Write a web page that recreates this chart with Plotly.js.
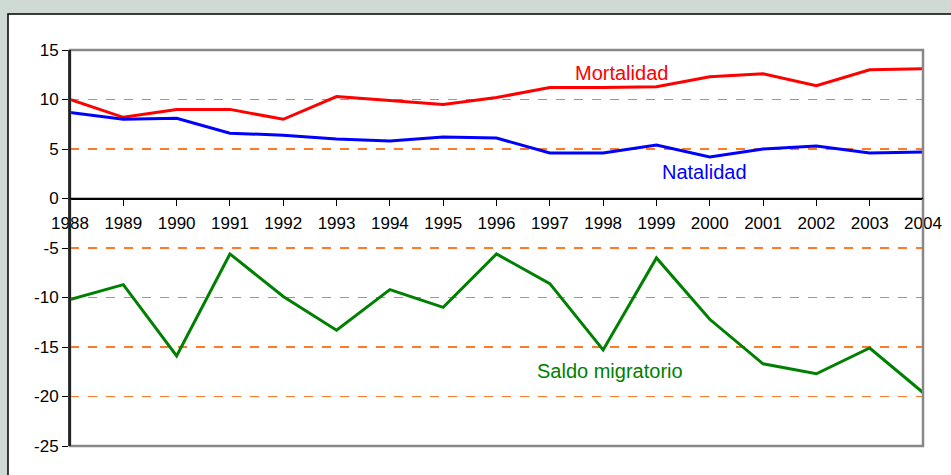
<!DOCTYPE html>
<html>
<head>
<meta charset="utf-8">
<script src="https://cdn.plot.ly/plotly-3.0.1.min.js"></script>
<style>
  html, body { margin: 0; padding: 0; background: #cfdad4; }
  #grafica { width: 951px; height: 475px; }
</style>
</head>
<body>
<div id="grafica"></div>
<script>
// Datos
const anios = [1988, 1989, 1990, 1991, 1992, 1993, 1994, 1995, 1996,
               1997, 1998, 1999, 2000, 2001, 2002, 2003, 2004];
const mortalidad = [10.0, 8.2, 9.0, 9.0, 8.0, 10.3, 9.9, 9.5, 10.2,
                    11.2, 11.2, 11.3, 12.3, 12.6, 11.4, 13.0, 13.1];
const natalidad = [8.7, 8.0, 8.1, 6.6, 6.4, 6.0, 5.8, 6.2, 6.1,
                   4.6, 4.6, 5.4, 4.2, 5.0, 5.3, 4.6, 4.7];
const saldoMigratorio = [-10.2, -8.7, -15.9, -5.6, -9.9, -13.3, -9.2, -11.0, -5.6,
                         -8.6, -15.3, -6.0, -12.2, -16.7, -17.7, -15.1, -19.6];
const ticksY = [-25, -20, -15, -10, -5, 0, 5, 10, 15];

const fuente = "Liberation Sans, Arial, sans-serif";

function serie(valores, color) {
    return {
        x: anios,
        y: valores,
        mode: "lines",
        line: { color: color, width: 3 },
        hoverinfo: "skip"
    };
}

const datos = [
    serie(mortalidad, "#ff0000"),
    serie(natalidad, "#0000ff"),
    serie(saldoMigratorio, "#008000")
];

// Etiquetas de las series
const etiquetas = [
    { x: 1998.34, y: 12.7, text: "Mortalidad", color: "#ff0000" },
    { x: 1999.9, y: 2.7, text: "Natalidad", color: "#0000ff" },
    { x: 1998.13, y: -17.4, text: "Saldo migratorio", color: "#008000" }
].map(e => ({
    x: e.x, y: e.y, xref: "x", yref: "y",
    text: e.text, showarrow: false,
    font: { family: fuente, size: 20, color: e.color }
}));

const layout = {
    width: 951,
    height: 475,
    margin: { l: 70, r: 28, t: 50, b: 29 },
    paper_bgcolor: "#cfdad4",
    plot_bgcolor: "#ffffff",
    showlegend: false,
    font: { family: fuente, size: 17, color: "#000000" },
    xaxis: {
        range: [1988, 2004],
        tickmode: "array",
        tickvals: anios,
        ticktext: anios.map(String),
        anchor: "free",
        position: 25 / 40,
        showgrid: false,
        zeroline: false,
        showline: true,
        linecolor: "#000000",
        linewidth: 1.5,
        ticks: "outside",
        ticklen: 6,
        tickcolor: "#000000",
        ticklabelstandoff: 3,
        tickfont: { family: fuente, size: 17, color: "#000000" }
    },
    yaxis: {
        range: [-25, 15],
        tickmode: "array",
        tickvals: ticksY,
        ticktext: ticksY.map(String),
        showgrid: true,
        gridcolor: "#ff7a26",
        griddash: "dash",
        gridwidth: 1.5,
        zeroline: false,
        showline: true,
        linecolor: "#222222",
        linewidth: 2,
        ticks: "outside",
        ticklen: 6,
        tickcolor: "#000000",
        tickfont: { family: fuente, size: 17, color: "#000000" }
    },
    shapes: [
        // panel blanco con borde negro
        {
            type: "rect", xref: "paper", yref: "paper", layer: "below",
            x0: (8 - 70) / 853, x1: (960 - 70) / 853,
            y0: -40 / 396, y1: 1 + 36 / 396,
            fillcolor: "#ffffff",
            line: { color: "#000000", width: 1.5 }
        },
        // marco del area de trazado
        {
            type: "rect", xref: "paper", yref: "paper", layer: "above",
            x0: 0, x1: 1, y0: 0, y1: 1,
            line: { color: "#888888", width: 2.5 }
        },
        {
            type: "line", xref: "paper", yref: "paper", layer: "above",
            x0: 0, x1: 0, y0: 0, y1: 1,
            line: { color: "#222222", width: 2 }
        },
        // eje horizontal en cero, sobre la cuadricula
        {
            type: "line", xref: "paper", yref: "y", layer: "above",
            x0: 0, x1: 1, y0: 0, y1: 0,
            line: { color: "#000000", width: 1.5 }
        }
    ],
    annotations: etiquetas
};

Plotly.newPlot("grafica", datos, layout, { displayModeBar: false, staticPlot: true });
</script>
</body>
</html>
